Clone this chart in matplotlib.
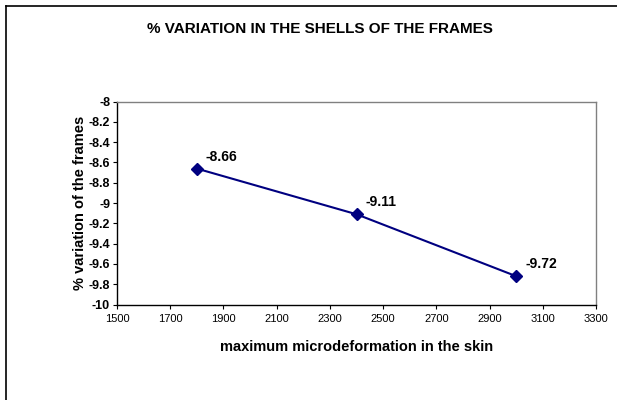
import matplotlib.pyplot as plt
from matplotlib.lines import Line2D

plt.rcParams['font.family'] = ['Liberation Sans', 'DejaVu Sans']

# datos
deformacion = [1800, 2400, 3000]
variacion = [-8.66, -9.11, -9.72]
etiquetas = ["-8.66", "-9.11", "-9.72"]
x_ticks = list(range(1500, 3301, 200))
y_ticks = [-10, -9.8, -9.6, -9.4, -9.2, -9, -8.8, -8.6, -8.4, -8.2, -8]
y_tick_labels = ["-10", "-9.8", "-9.6", "-9.4", "-9.2", "-9", "-8.8", "-8.6", "-8.4", "-8.2", "-8"]

fig = plt.figure(figsize=(6.17, 4), dpi=100)
ax = fig.add_axes([0.1896, 0.2385, 0.7764, 0.5075])

ax.plot(deformacion, variacion, color="#000080", lw=1.5, marker="D", markersize=6.5)
for x, y, t in zip(deformacion, variacion, etiquetas):
    ax.annotate(t, (x, y), xytext=(9, 5), textcoords="offset pixels",
                fontsize=10, fontweight="bold", va="bottom", ha="left")

ax.set_xlim(1500, 3300)
ax.set_ylim(-10, -8)
ax.set_xticks(x_ticks)
ax.set_yticks(y_ticks)
ax.set_yticklabels(y_tick_labels, fontweight="bold")
ax.tick_params(axis="x", labelsize=8, length=3, width=0.8, pad=4)
ax.tick_params(axis="y", labelsize=9, length=3, width=0.8, pad=2)

for s in ["left", "bottom"]:
    ax.spines[s].set_color("black")
    ax.spines[s].set_linewidth(1.0)
for s in ["top", "right"]:
    ax.spines[s].set_color("#808080")
    ax.spines[s].set_linewidth(1.0)

ax.set_xlabel("maximum microdeformation in the skin", fontsize=10.5, fontweight="bold", labelpad=11)
ax.set_ylabel("% variation of the frames", fontsize=10.5, fontweight="bold", labelpad=1)
fig.text(0.519, 0.928, "% VARIATION IN THE SHELLS OF THE FRAMES", fontsize=11,
         fontweight="bold", ha="center", va="center")

# borde exterior (recortado a la derecha y abajo)
fig.add_artist(Line2D([5.5 / 617, 5.5 / 617], [0, 1 - 5.5 / 400], color="black", lw=1.2))
fig.add_artist(Line2D([5.5 / 617, 1], [1 - 5.5 / 400, 1 - 5.5 / 400], color="black", lw=1.2))

fig.savefig("out.png", dpi=100)
